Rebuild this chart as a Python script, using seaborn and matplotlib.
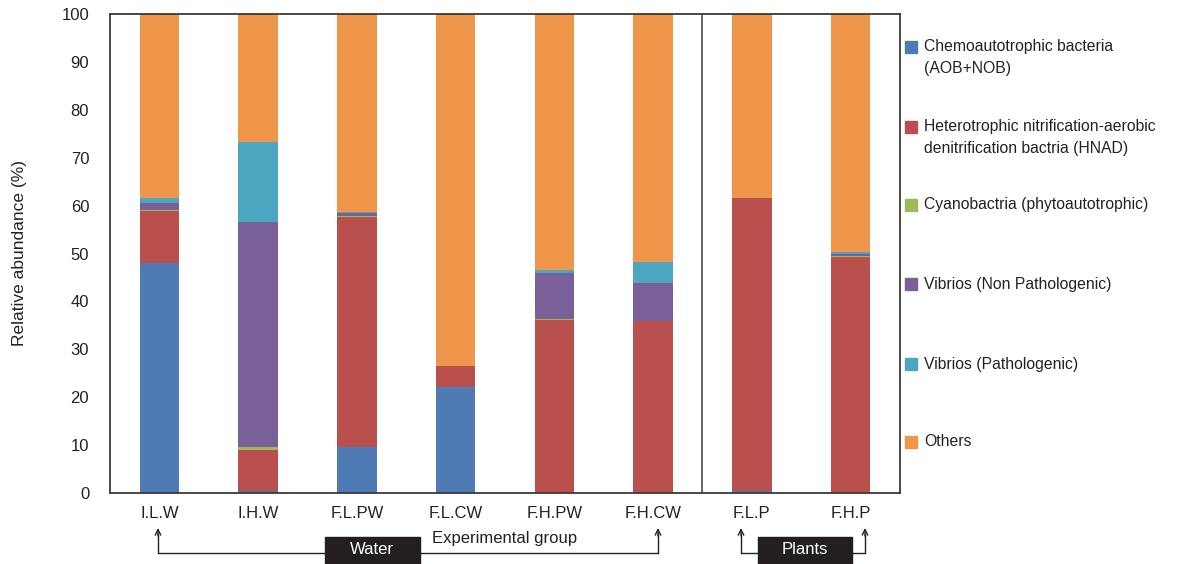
import pandas as pd
import matplotlib.pyplot as plt
import seaborn as sns
from matplotlib.patches import Rectangle

# =============================
# DATOS
# =============================
groups = ["I.L.W", "I.H.W", "F.L.PW", "F.L.CW", "F.H.PW", "F.H.CW", "F.L.P", "F.H.P"]

taxa = [
    "Chemoautotrophic bacteria\n(AOB+NOB)",
    "Heterotrophic nitrification-aerobic\ndenitrification bactria (HNAD)",
    "Cyanobactria (phytoautotrophic)",
    "Vibrios (Non Pathologenic)",
    "Vibrios (Pathologenic)",
    "Others",
]

chemo = [48.0, 0.5, 9.7, 22.2, 0.0, 0.0, 0.4, 0.0]
hnad = [10.9, 8.5, 48.0, 4.3, 36.1, 35.9, 61.2, 49.3]
cyano = [0.1, 0.6, 0.2, 0.0, 0.2, 0.0, 0.0, 0.2]
vibrio_np = [1.6, 47.0, 0.6, 0.0, 9.7, 8.0, 0.0, 0.4]
vibrio_p = [1.0, 16.7, 0.2, 0.0, 0.6, 4.4, 0.0, 0.4]
others = [38.4, 26.7, 41.3, 73.5, 53.4, 51.7, 38.4, 49.7]

colors = ["#4E7BB4", "#B9504D", "#9BBB59", "#7A6099", "#4CA6BF", "#F0964A"]

series = [chemo, hnad, cyano, vibrio_np, vibrio_p, others]
df = pd.concat(
    [pd.DataFrame({"group": groups, "taxon": t, "value": v}) for t, v in zip(taxa, series)],
    ignore_index=True,
)

# =============================
# FIGURA
# =============================
sns.set_style("white")
plt.rcParams["font.family"] = ["Liberation Sans", "DejaVu Sans"]

W, H = 1179, 564
fig = plt.figure(figsize=(W / 100, H / 100), dpi=100)
ax = fig.add_axes([110 / W, 1 - 493 / H, 790 / W, 479 / H])

bottom = [0.0] * len(groups)
for taxon, color in zip(taxa, colors):
    sub = df[df["taxon"] == taxon]
    sns.barplot(data=sub, x="group", y="value", order=groups, color=color,
                saturation=1, bottom=bottom, width=0.4, errorbar=None, ax=ax,
                edgecolor="none", linewidth=0)
    bottom = [b + v for b, v in zip(bottom, sub["value"].tolist())]

ax.set_xlim(-0.5, 7.5)
ax.set_ylim(0, 100)
ax.set_yticks(range(0, 101, 10))
ax.set_xlabel("")
ax.set_ylabel("")
ax.tick_params(axis="y", length=0, pad=15, labelsize=12, colors="#222222")
ax.tick_params(axis="x", length=0, pad=9, labelsize=12, colors="#222222")
for sp in ax.spines.values():
    sp.set_visible(True)
    sp.set_color("#3a3a3a")
    sp.set_linewidth(1.3)
ax.axvline(5.5, color="#3a3a3a", linewidth=1.1)

fig.text(20 / W, 1 - 253 / H, "Relative abundance (%)", rotation=90,
         ha="center", va="center", fontsize=12.5, color="#222222")

# leyenda manual (estilo Excel)
legend_pos = [(47, 69), (127, 148), (205,), (284,), (364,), (442,)]
for taxon, color, ys in zip(taxa, colors, legend_pos):
    yc = ys[0]
    fig.patches.append(Rectangle((905 / W, 1 - (yc + 6) / H), 12 / W, 12 / H,
                                 transform=fig.transFigure, color=color))
    for line, yl in zip(taxon.split("\n"), ys):
        fig.text(924 / W, 1 - yl / H, line, ha="left", va="center",
                 fontsize=11.3, color="#222222")

# anotaciones inferiores
def fx(px):
    return px / W

def fy(py):
    return 1 - py / H

fig.text(fx(505), fy(538), "Experimental group", ha="center", va="center",
         fontsize=12, color="#222222")

line_kw = dict(color="#222222", linewidth=1.0)
for x0, x1 in [(158, 658), (741, 865)]:
    fig.add_artist(plt.Line2D([fx(x0), fx(x1)], [fy(553), fy(553)],
                              transform=fig.transFigure, **line_kw))
    for xa in (x0, x1):
        fig.add_artist(plt.Line2D([fx(xa), fx(xa)], [fy(553), fy(534)],
                                  transform=fig.transFigure, **line_kw))
        ax.annotate("", xy=(fx(xa), fy(528)), xytext=(fx(xa), fy(536)),
                    xycoords="figure fraction", textcoords="figure fraction",
                    arrowprops=dict(arrowstyle="->", color="#222222", lw=1.0,
                                    shrinkA=0, shrinkB=0))

for (bx0, bx1, label, cx) in [(325, 420, "Water", 372), (758, 852, "Plants", 805)]:
    fig.patches.append(Rectangle((fx(bx0), fy(564)), (bx1 - bx0) / W, 27 / H,
                                 transform=fig.transFigure, color="#231f20"))
    fig.text(fx(cx), fy(550), label, ha="center", va="center",
             fontsize=12, color="white")

fig.savefig("out.png", dpi=100)
